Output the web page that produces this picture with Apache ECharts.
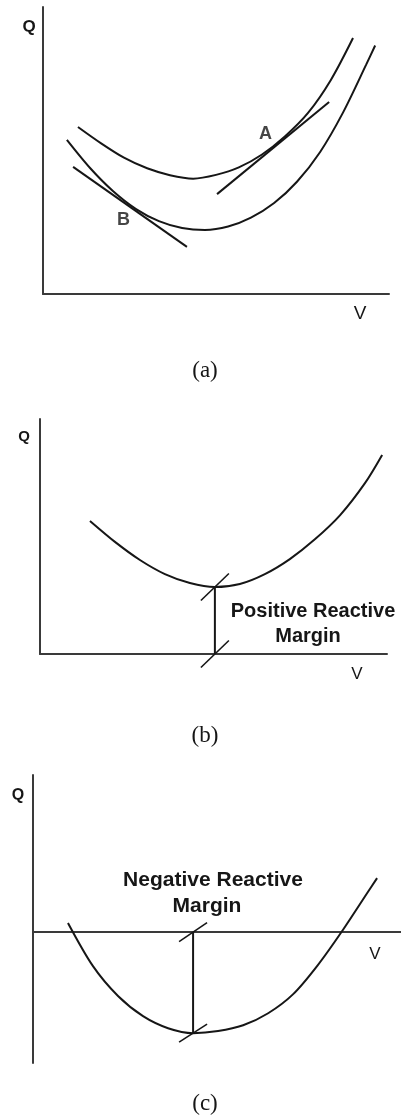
<!DOCTYPE html>
<html>
<head>
<meta charset="utf-8">
<script src="https://cdn.jsdelivr.net/npm/echarts@6/dist/echarts.min.js"></script>
<style>
  html, body { margin: 0; padding: 0; background: #ffffff; }
  #chart { width: 401px; height: 1120px; }
</style>
</head>
<body>
<div id="chart"></div>
<script>
// Q–V characteristics, arbitrary units: V runs 0–100 along each horizontal axis.

// (a) two Q–V curves with tangents at A and B
const curveUpper = [
  [10.1, 58.2], [16.8, 52.5], [23.4, 47.5], [30.1, 43.8], [36.7, 41.4],
  [43.4, 40.2], [50.0, 41.5], [56.6, 44.1], [63.3, 48.6], [69.9, 54.9],
  [76.6, 63.1], [83.2, 74.6], [89.6, 89.2]
];
const curveLower = [
  [6.9, 53.7], [13.6, 43.9], [20.2, 35.9], [26.9, 29.6], [33.5, 25.4],
  [40.2, 23.0], [46.8, 22.3], [53.5, 23.5], [60.1, 26.6], [66.8, 31.7],
  [73.4, 39.1], [80.1, 49.5], [86.7, 63.2], [93.4, 79.9], [96.0, 86.6]
];
const tangentA = [[50.3, 34.8], [82.7, 66.9]];
const tangentB = [[8.7, 44.3], [41.6, 16.4]];
const pointNames = ['A', 'B'];
const pointPositions = [[64.3, 55.7], [23.3, 25.8]];

// (b) curve lying above the V axis
const curvePositive = [
  [14.4, 56.6], [21.6, 47.7], [28.8, 40.0], [36.0, 34.0], [43.2, 30.2],
  [50.4, 28.5], [57.6, 29.8], [64.8, 34.0], [72.0, 40.4], [79.3, 48.9],
  [86.5, 59.1], [93.7, 72.8], [98.6, 84.7]
];
const marginPositive = { v: 50.4, q: 28.5 };

// (c) curve dipping below the V axis
const curveNegative = [
  [9.5, 3.5], [16.3, -13.0], [23.1, -24.4], [29.9, -32.1], [36.7, -36.7],
  [43.5, -38.6], [50.3, -37.8], [57.1, -35.6], [63.9, -31.0], [70.7, -23.7],
  [77.4, -12.6], [84.2, 0.8], [91.0, 15.3], [93.5, 20.6]
];
const marginNegative = { v: 43.5, q: -38.6 };

// axis titles, captions and annotation text
const axisTitleQ = 'Q';
const axisTitleV = 'V';
const captions = ['(a)', '(b)', '(c)'];
const marginTextPositive = ['Positive Reactive', 'Margin'];
const marginTextNegative = ['Negative Reactive', 'Margin'];

// ---- layout ----
const grids = [
  { left: 43, top: 7,   width: 346, height: 287 },
  { left: 40, top: 419, width: 347, height: 235 },
  { left: 33, top: 775, width: 368, height: 288 }
];
const vRange = [0, 100];
const qRanges = [[0, 100], [0, 100], [-50, 60]];

const INK = '#161616';
const AXIS = '#3a3a3a';
const SANS = '"Liberation Sans", Arial, sans-serif';
const SERIF = '"Liberation Serif", "Times New Roman", serif';

// size of one pixel in data units for a grid
function unitsPerPx(i) {
  return {
    v: (vRange[1] - vRange[0]) / grids[i].width,
    q: (qRanges[i][1] - qRanges[i][0]) / grids[i].height
  };
}

// short slanted stroke centred on a point (hx, hy in pixels)
function slash(i, v, q, hx, hy) {
  const u = unitsPerPx(i);
  return [[v - hx * u.v, q - hy * u.q], [v + hx * u.v, q + hy * u.q]];
}

function lineSeries(i, data, width) {
  return {
    type: 'line', xAxisIndex: i, yAxisIndex: i, data: data,
    symbol: 'none', smooth: 0.3, clip: false, silent: true,
    lineStyle: { color: INK, width: width || 2 }
  };
}
function straight(i, data, width) {
  const s = lineSeries(i, data, width);
  s.smooth = false;
  return s;
}

function textEl(text, x, y, size, weight, family) {
  return {
    type: 'text', silent: true,
    style: {
      text: text, x: x, y: y, align: 'center', verticalAlign: 'middle',
      fontSize: size, fontWeight: weight || 'normal',
      fontFamily: family || SANS, fill: INK
    }
  };
}

const axisBase = {
  axisLine: { show: true, onZero: true, lineStyle: { color: AXIS, width: 2 } },
  axisTick: { show: false },
  axisLabel: { show: false },
  splitLine: { show: false }
};

const option = {
  backgroundColor: '#ffffff',
  animation: false,
  grid: grids.map(g => Object.assign({ containLabel: false }, g)),
  xAxis: grids.map((g, i) => Object.assign({
    type: 'value', gridIndex: i, min: vRange[0], max: vRange[1]
  }, axisBase)),
  yAxis: grids.map((g, i) => Object.assign({
    type: 'value', gridIndex: i, min: qRanges[i][0], max: qRanges[i][1]
  }, axisBase)),
  series: [
    // (a)
    lineSeries(0, curveUpper),
    lineSeries(0, curveLower),
    straight(0, tangentA),
    straight(0, tangentB),
    {
      type: 'scatter', xAxisIndex: 0, yAxisIndex: 0, symbolSize: 0, silent: true,
      itemStyle: { color: INK },
      data: pointNames.map((n, k) => ({ name: n, value: pointPositions[k] })),
      label: {
        show: true, position: 'inside', formatter: '{b}',
        color: INK, fontSize: 18, fontWeight: 'bold', fontFamily: SANS,
        textBorderWidth: 0, textShadowBlur: 0
      }
    },
    // (b)
    lineSeries(1, curvePositive),
    straight(1, [[marginPositive.v, 0], [marginPositive.v, marginPositive.q]]),
    straight(1, slash(1, marginPositive.v, marginPositive.q, 14, 13.5), 1.6),
    straight(1, slash(1, marginPositive.v, 0, 14, 13.5), 1.6),
    // (c)
    lineSeries(2, curveNegative),
    straight(2, [[marginNegative.v, 0], [marginNegative.v, marginNegative.q]]),
    straight(2, slash(2, marginNegative.v, 0, 14, 9.5), 1.6),
    straight(2, slash(2, marginNegative.v, marginNegative.q, 14, 9), 1.6)
  ],
  graphic: [
    textEl(axisTitleQ, 29, 27, 17, 'bold'),
    textEl(axisTitleV, 360, 314, 19),
    textEl(captions[0], 205, 371, 23, 'normal', SERIF),

    textEl(axisTitleQ, 24, 437, 15, 'bold'),
    textEl(axisTitleV, 357, 674, 17),
    textEl(marginTextPositive[0], 313, 611, 20, 'bold'),
    textEl(marginTextPositive[1], 308, 636, 20, 'bold'),
    textEl(captions[1], 205, 736, 23, 'normal', SERIF),

    textEl(axisTitleQ, 18, 796, 16, 'bold'),
    textEl(axisTitleV, 375, 954, 17),
    textEl(marginTextNegative[0], 213, 880, 21, 'bold'),
    textEl(marginTextNegative[1], 207, 906, 21, 'bold'),
    textEl(captions[2], 205, 1104, 23, 'normal', SERIF)
  ]
};

const chart = echarts.init(document.getElementById('chart'), null, { renderer: 'canvas' });
chart.setOption(option);
</script>
</body>
</html>
